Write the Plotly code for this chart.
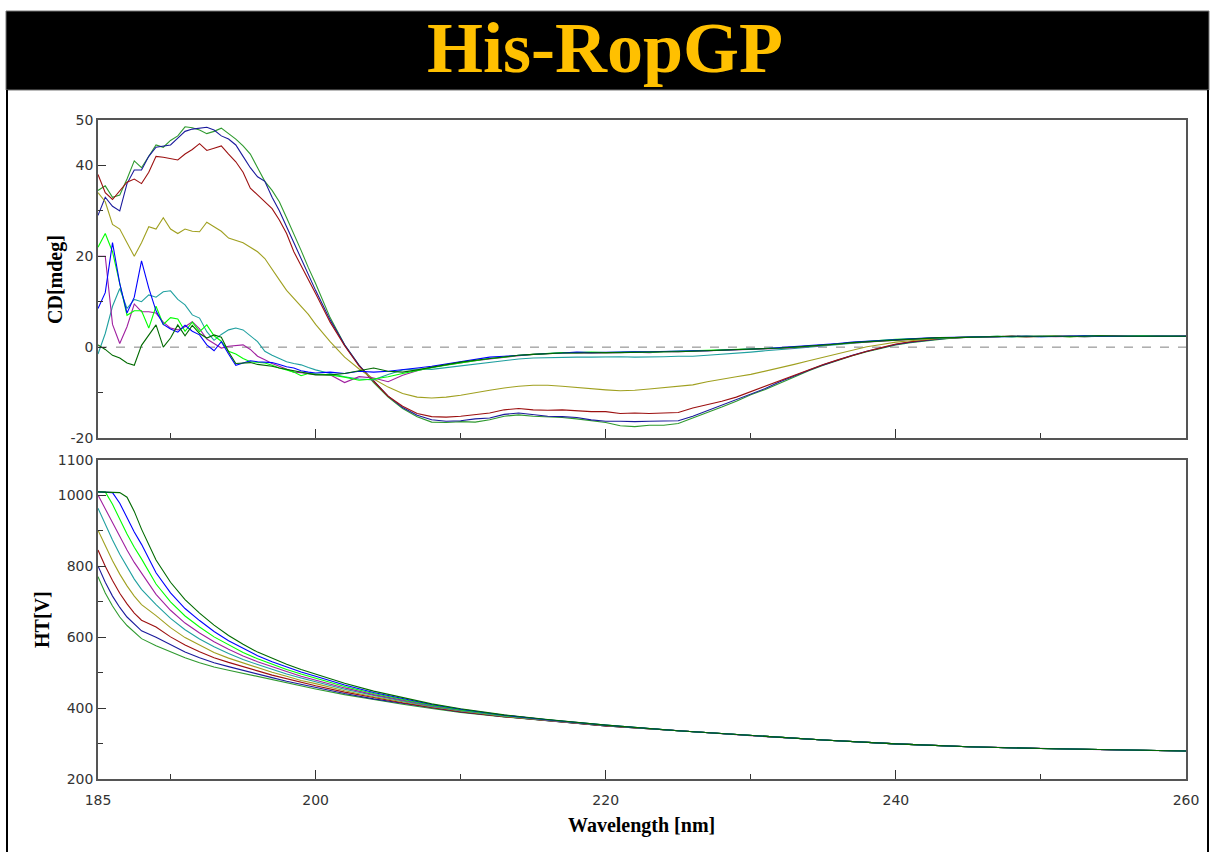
import plotly.graph_objects as go

# ---------------- data ----------------
WL_CD = [185.0, 185.5, 186.0, 186.5, 187.0, 187.5, 188.0, 188.5, 189.0, 189.5,
         190.0, 190.5, 191.0, 191.5, 192.0, 192.5, 193.0, 193.5, 194.0, 194.5,
         195.0, 195.5, 196.0, 196.5, 197.0, 197.5, 198.0, 198.5, 199.0, 199.5,
         200, 201, 202, 203, 204, 205, 206, 207, 208, 209, 210,
         211, 212, 213, 214, 215, 216, 217, 218, 219, 220,
         221, 222, 223, 224, 225, 226, 227, 228, 229, 230,
         231, 232, 233, 234, 235, 236, 237, 238, 239, 240,
         241, 242, 243, 244, 245, 246, 247, 248, 249, 250,
         251, 252, 253, 254, 255, 256, 257, 258, 259, 260]

cd_green = [34.5, 35.5, 33.0, 33.5, 37.0, 41.0, 39.5, 42.0, 44.5, 44.0,
            45.5, 46.5, 48.5, 48.3, 47.8, 47.0, 47.5, 48.2, 47.0, 45.8,
            44.3, 42.5, 39.5, 36.5, 34.5, 32.0, 28.5, 25.0, 21.3, 17.5,
            14.0, 6.5, 0.5, -4.0, -7.8, -11.0, -13.5, -15.3, -16.5, -16.6, -16.4,
            -16.5, -16.0, -15.2, -14.9, -15.2, -15.3, -15.5, -15.8, -16.2, -16.6,
            -17.3, -17.5, -17.2, -17.2, -16.8, -15.6, -14.5, -13.2, -11.9, -10.5,
            -9.3, -7.9, -6.5, -5.2, -4.0, -2.9, -1.9, -1.0, -0.2, 0.5,
            1.0, 1.4, 1.7, 2.0, 2.2, 2.3, 2.3, 2.4, 2.3, 2.4,
            2.4, 2.3, 2.4, 2.5, 2.4, 2.4, 2.5, 2.4, 2.5, 2.5]

cd_navy = [29.0, 33.0, 31.0, 30.0, 36.0, 39.0, 39.0, 42.0, 44.0, 44.2,
           44.5, 46.0, 47.5, 48.0, 48.2, 48.4, 47.8, 46.5, 45.8, 44.5,
           42.0, 39.5, 37.5, 36.5, 33.0, 30.0, 26.5, 23.0, 19.5, 15.8,
           12.5, 6.0, 0.5, -4.0, -7.5, -10.8, -13.3, -15.0, -16.0, -16.3, -16.2,
           -15.8, -15.6, -14.8, -14.5, -14.8, -15.2, -15.3, -15.5, -16.0, -16.3,
           -16.3, -16.4, -16.3, -16.3, -16.2, -15.2, -14.0, -12.8, -11.6, -10.3,
           -9.1, -7.6, -6.3, -5.1, -3.9, -2.8, -1.8, -0.9, -0.1, 0.6,
           1.1, 1.5, 1.8, 2.0, 2.2, 2.3, 2.4, 2.3, 2.4, 2.4,
           2.3, 2.4, 2.4, 2.5, 2.4, 2.4, 2.4, 2.5, 2.4, 2.5]

cd_red = [38.0, 34.0, 32.5, 34.5, 36.3, 37.0, 36.0, 38.5, 42.0, 41.8,
          41.5, 41.2, 42.5, 43.5, 44.8, 43.3, 43.8, 44.3, 42.5, 40.8,
          38.5, 35.0, 33.5, 32.0, 30.5, 28.0, 25.0, 21.0, 18.0, 14.8,
          11.8, 5.5, 0.3, -4.2, -7.6, -10.8, -13.0, -14.6, -15.3, -15.4, -15.2,
          -14.8, -14.5, -13.8, -13.5, -13.8, -13.9, -13.8, -14.0, -14.2, -14.2,
          -14.6, -14.5, -14.6, -14.5, -14.4, -13.4, -12.7, -11.9, -11.0, -9.8,
          -8.7, -7.4, -6.2, -5.0, -3.8, -2.8, -1.8, -0.9, -0.1, 0.7,
          1.2, 1.6, 1.9, 2.1, 2.2, 2.3, 2.3, 2.4, 2.3, 2.4,
          2.4, 2.4, 2.3, 2.4, 2.5, 2.4, 2.4, 2.4, 2.5, 2.4]

cd_olive = [34.0, 32.0, 27.0, 26.0, 23.0, 20.0, 23.0, 26.5, 26.0, 28.5,
            26.0, 25.0, 26.0, 25.5, 25.4, 27.5, 26.5, 25.5, 24.0, 23.5,
            23.0, 22.0, 21.0, 19.5, 17.0, 14.8, 12.5, 10.7, 9.0, 7.2,
            5.0, 1.2, -2.2, -4.8, -7.0, -8.8, -10.2, -11.0, -11.2, -11.0, -10.6,
            -10.0, -9.5, -9.0, -8.6, -8.4, -8.4, -8.6, -8.9, -9.2, -9.4,
            -9.6, -9.5, -9.2, -8.9, -8.6, -8.3, -7.6, -7.0, -6.5, -6.0,
            -5.3, -4.6, -3.8, -3.0, -2.2, -1.4, -0.6, 0.1, 0.6, 1.1,
            1.4, 1.7, 1.9, 2.1, 2.2, 2.3, 2.3, 2.4, 2.3, 2.4,
            2.4, 2.3, 2.4, 2.4, 2.4, 2.5, 2.4, 2.4, 2.5, 2.4]

cd_teal = [-1.5, 3.0, 9.0, 12.9, 8.5, 10.5, 10.0, 11.5, 11.0, 12.2,
           12.4, 10.5, 9.3, 7.1, 6.4, 3.4, 1.5, 2.8, 3.8, 4.2,
           3.8, 2.5, 1.2, -0.9, -1.8, -2.5, -3.2, -3.6, -3.9, -4.5,
           -5.0, -5.8, -6.5, -7.0, -7.2, -6.0, -5.0, -4.8, -4.9, -4.5, -4.1,
           -3.8, -3.3, -2.9, -2.6, -2.4, -2.3, -2.3, -2.2, -2.2, -2.1,
           -2.1, -2.2, -2.2, -2.1, -2.0, -2.0, -1.8, -1.6, -1.3, -1.1,
           -0.8, -0.6, -0.3, 0.0, 0.3, 0.6, 0.9, 1.2, 1.4, 1.6,
           1.8, 1.9, 2.0, 2.1, 2.2, 2.3, 2.3, 2.3, 2.4, 2.3,
           2.4, 2.4, 2.3, 2.4, 2.4, 2.5, 2.4, 2.4, 2.4, 2.5]

cd_purple = [20.0, 20.0, 5.0, 0.8, 4.5, 9.5, 7.8, 7.8, 7.5, 5.5,
             4.2, 3.8, 4.5, 5.6, 4.0, 1.8, 0.8, -0.2, 0.2, 0.3,
             0.5, -0.5, -2.0, -2.8, -3.6, -4.2, -4.8, -5.5, -5.6, -5.8,
             -6.0, -6.1, -7.8, -6.5, -6.8, -7.6, -6.2, -5.2, -4.4, -3.9, -3.4,
             -3.0, -2.6, -2.2, -1.9, -1.6, -1.4, -1.3, -1.3, -1.2, -1.3,
             -1.2, -1.1, -1.2, -1.0, -1.0, -0.9, -0.9, -0.8, -0.7, -0.6,
             -0.4, -0.3, -0.1, 0.1, 0.4, 0.7, 0.9, 1.2, 1.4, 1.6,
             1.8, 1.9, 2.0, 2.1, 2.2, 2.3, 2.3, 2.4, 2.3, 2.4,
             2.3, 2.4, 2.4, 2.4, 2.5, 2.4, 2.4, 2.3, 2.4, 2.5]

cd_lime = [22.0, 25.0, 21.0, 14.0, 7.0, 8.0, 8.0, 4.2, 9.0, 5.0,
           6.5, 6.2, 3.5, 5.5, 3.4, 4.9, 2.5, 1.3, -0.9, -1.5,
           -2.5, -3.2, -3.3, -3.5, -4.0, -4.6, -5.0, -5.5, -6.3, -5.8,
           -5.9, -6.1, -6.6, -7.3, -7.0, -6.5, -5.8, -5.1, -4.5, -4.0, -3.5,
           -3.0, -2.5, -2.2, -1.8, -1.6, -1.4, -1.2, -1.2, -1.1, -1.2,
           -1.1, -1.0, -1.1, -1.0, -0.9, -0.9, -0.8, -0.7, -0.6, -0.5,
           -0.3, -0.2, 0.0, 0.2, 0.5, 0.7, 1.0, 1.3, 1.5, 1.7,
           1.8, 1.9, 2.0, 2.2, 2.2, 2.3, 2.4, 2.3, 2.4, 2.4,
           2.4, 2.3, 2.5, 2.4, 2.4, 2.4, 2.5, 2.4, 2.4, 2.4]

cd_blue = [8.5, 12.0, 23.0, 14.0, 7.5, 11.0, 19.0, 13.0, 8.0, 5.0,
           4.0, 3.3, 4.8, 3.5, 2.7, 0.5, -0.8, 1.2, -1.5, -4.0,
           -3.5, -3.0, -3.2, -3.3, -3.4, -3.8, -4.3, -4.6, -5.2, -5.5,
           -5.7, -5.5, -5.8, -5.3, -5.5, -5.3, -5.0, -4.6, -4.2, -3.7, -3.3,
           -2.8, -2.2, -2.0, -1.8, -1.5, -1.4, -1.3, -1.1, -1.2, -1.1,
           -1.1, -1.0, -1.0, -0.9, -0.9, -0.8, -0.8, -0.7, -0.6, -0.4,
           -0.3, -0.1, 0.1, 0.3, 0.5, 0.8, 1.1, 1.3, 1.5, 1.7,
           1.9, 2.0, 2.1, 2.2, 2.3, 2.3, 2.3, 2.4, 2.4, 2.3,
           2.4, 2.4, 2.5, 2.4, 2.4, 2.4, 2.4, 2.5, 2.4, 2.4]

cd_dkgreen = [0.5, -0.5, -1.8, -2.4, -3.5, -4.0, 0.4, 2.7, 4.9, 0.0,
              2.0, 4.9, 2.5, 4.8, 3.0, 2.0, 2.7, 2.2, -1.0, -3.6,
              -3.5, -3.4, -3.8, -4.0, -4.2, -4.6, -4.9, -5.3, -5.5, -5.9,
              -6.1, -6.1, -5.8, -5.2, -4.6, -5.3, -5.5, -5.0, -4.4, -3.8, -3.3,
              -2.9, -2.5, -2.1, -1.8, -1.6, -1.4, -1.3, -1.3, -1.2, -1.2,
              -1.2, -1.1, -1.1, -1.0, -1.0, -0.9, -0.8, -0.7, -0.6, -0.5,
              -0.3, -0.2, 0.0, 0.2, 0.4, 0.7, 1.0, 1.2, 1.4, 1.6,
              1.8, 1.9, 2.1, 2.1, 2.2, 2.3, 2.3, 2.4, 2.4, 2.4,
              2.3, 2.4, 2.4, 2.5, 2.4, 2.4, 2.4, 2.4, 2.5, 2.4]

WL_HT = [185.0, 185.5, 186.0, 186.5, 187.0, 187.5, 188.0, 189, 190, 191,
         192, 193, 194, 195, 196, 197, 198, 199, 200, 202,
         204, 206, 208, 210, 213, 216, 220, 225, 230, 235,
         240, 245, 250, 255, 260]

ht_green = [771, 725, 688, 657, 633, 613, 596, 576, 558, 542, 528, 516, 507, 498, 490, 480, 471, 462, 454, 438,
            424, 411, 399, 388, 375, 364, 350, 336, 322, 310, 299, 291, 286, 282, 279]
ht_navy = [801, 755, 716, 684, 657, 636, 618, 600, 578, 558, 542, 528, 517, 506, 497, 486, 476, 467, 458, 441,
           426, 413, 400, 389, 376, 364, 350, 336, 322, 310, 299, 291, 286, 282, 279]
ht_red = [846, 800, 760, 724, 694, 668, 648, 629, 601, 578, 559, 542, 529, 516, 505, 493, 483, 472, 463, 445,
          429, 415, 402, 390, 376, 365, 350, 336, 322, 310, 299, 291, 286, 282, 279]
ht_olive = [902, 858, 816, 778, 745, 716, 692, 661, 627, 599, 577, 557, 541, 527, 514, 501, 490, 478, 469, 449,
            432, 417, 404, 392, 377, 365, 351, 336, 322, 310, 299, 291, 286, 282, 279]
ht_teal = [964, 918, 874, 834, 797, 764, 735, 692, 653, 621, 595, 573, 554, 537, 523, 509, 496, 485, 474, 453,
           436, 420, 405, 393, 378, 366, 351, 336, 322, 310, 299, 291, 286, 282, 279]
ht_purple = [1001, 962, 924, 884, 846, 811, 780, 721, 676, 640, 612, 587, 566, 547, 531, 516, 503, 490, 479, 457,
             438, 422, 407, 394, 379, 366, 351, 336, 322, 310, 299, 291, 286, 282, 279]
ht_lime = [1010, 1010, 975, 932, 891, 854, 821, 750, 700, 660, 629, 601, 578, 557, 539, 523, 509, 496, 484, 461,
           441, 424, 408, 395, 379, 367, 352, 336, 322, 310, 299, 291, 286, 282, 279]
ht_blue = [1010, 1010, 1008, 978, 937, 897, 862, 782, 725, 681, 647, 616, 590, 568, 548, 531, 516, 502, 490, 465,
           444, 426, 410, 397, 380, 367, 352, 336, 322, 310, 299, 291, 286, 282, 279]
ht_dkgreen = [1010, 1010, 1010, 1008, 995, 955, 905, 818, 755, 706, 668, 634, 605, 580, 558, 540, 524, 509, 496, 470,
              448, 429, 412, 398, 381, 368, 352, 336, 322, 310, 299, 291, 286, 282, 279]

COLORS = {
    "green": "#2f9a2f", "navy": "#1a1a9c", "red": "#9c1010", "olive": "#a0a020",
    "teal": "#20a0a0", "purple": "#a020a0", "lime": "#00ff00", "blue": "#0000ff",
    "dkgreen": "#006a00",
}
CD_SERIES = [("green", cd_green), ("navy", cd_navy), ("red", cd_red), ("olive", cd_olive),
             ("teal", cd_teal), ("purple", cd_purple), ("lime", cd_lime), ("blue", cd_blue),
             ("dkgreen", cd_dkgreen)]
HT_SERIES = [("green", ht_green), ("navy", ht_navy), ("red", ht_red), ("olive", ht_olive),
             ("teal", ht_teal), ("purple", ht_purple), ("lime", ht_lime), ("blue", ht_blue),
             ("dkgreen", ht_dkgreen)]

TITLE = "His-RopGP"
X_TICKS = [185, 200, 220, 240, 260]
X_MINOR = [190, 210, 230, 250]
CD_TICKS = [-20, 0, 20, 40, 50]
CD_TICKTEXT = ["-20", "0", "20", "40", "50"]
CD_MINOR = [-10, 10, 30]
HT_TICKS = [200, 400, 600, 800, 1000, 1100]
HT_MINOR = [300, 500, 700, 900]

# ---------------- layout helpers ----------------
W, H = 1212, 852


def fx(p):
    return p / W


def fy(p):
    return 1 - p / H


fig = go.Figure()
for key, vals in CD_SERIES:
    fig.add_trace(go.Scatter(x=WL_CD, y=vals, mode="lines", xaxis="x", yaxis="y",
                             line=dict(color=COLORS[key], width=1.1),
                             showlegend=False, hoverinfo="skip"))
for key, vals in HT_SERIES:
    fig.add_trace(go.Scatter(x=WL_HT, y=vals, mode="lines", xaxis="x2", yaxis="y2",
                             line=dict(color=COLORS[key], width=1.1),
                             showlegend=False, hoverinfo="skip"))

tick_font = dict(family="DejaVu Sans", size=14, color="#333333")
axis_common = dict(showline=True, linecolor="#555555", linewidth=1.5, mirror=True,
                   showgrid=False, zeroline=False, ticks="inside", tickcolor="#333333",
                   tickwidth=1.2, tickfont=tick_font, automargin=False)

xa = dict(axis_common, domain=[fx(98), fx(1186)], range=[185, 260], tickmode="array",
          tickvals=X_TICKS, ticklen=9,
          minor=dict(tickmode="array", tickvals=X_MINOR, ticks="inside", ticklen=5,
                     tickcolor="#333333", tickwidth=1.2))

fig.update_layout(
    width=W, height=H,
    margin=dict(l=0, r=0, t=0, b=0, pad=0, autoexpand=False),
    paper_bgcolor="white", plot_bgcolor="white",
    xaxis=dict(xa, anchor="y", showticklabels=False),
    xaxis2=dict(xa, anchor="y2", showticklabels=True, ticklabelstandoff=7),
    yaxis=dict(axis_common, domain=[fy(438), fy(120)], range=[-20, 50], anchor="x",
               tickmode="array", tickvals=CD_TICKS, ticktext=CD_TICKTEXT, ticklen=8,
               minor=dict(tickmode="array", tickvals=CD_MINOR, ticks="inside", ticklen=5,
                          tickcolor="#333333", tickwidth=1.2)),
    yaxis2=dict(axis_common, domain=[fy(779), fy(460)], range=[200, 1100], anchor="x2",
                tickmode="array", tickvals=HT_TICKS, ticklen=8,
                minor=dict(tickmode="array", tickvals=HT_MINOR, ticks="inside", ticklen=5,
                           tickcolor="#333333", tickwidth=1.2)),
    shapes=[
        dict(type="rect", xref="paper", yref="paper", x0=fx(6), x1=fx(1209),
             y0=fy(90), y1=fy(11), fillcolor="black", line=dict(color="#777777", width=1),
             layer="below"),
        dict(type="line", xref="paper", yref="paper", x0=fx(7), x1=fx(7),
             y0=fy(90), y1=0, line=dict(color="black", width=2)),
        dict(type="line", xref="paper", yref="paper", x0=fx(1208), x1=fx(1208),
             y0=fy(90), y1=0, line=dict(color="black", width=2)),
        dict(type="line", xref="x", yref="y", x0=185, x1=260, y0=0, y1=0,
             line=dict(color="#808080", width=1, dash="dash"), layer="below"),
    ],
    annotations=[
        dict(text="<b>" + TITLE + "</b>", xref="paper", yref="paper", x=fx(605), y=fy(48),
             xanchor="center", yanchor="middle", showarrow=False,
             font=dict(family="Liberation Serif", size=72, color="#FFC000")),
        dict(text="<b>CD[mdeg]</b>", xref="paper", yref="paper", x=fx(55), y=fy(280),
             xanchor="center", yanchor="middle", showarrow=False, textangle=-90,
             font=dict(family="Liberation Serif", size=20, color="black")),
        dict(text="<b>HT[V]</b>", xref="paper", yref="paper", x=fx(42), y=fy(620),
             xanchor="center", yanchor="middle", showarrow=False, textangle=-90,
             font=dict(family="Liberation Serif", size=20, color="black")),
        dict(text="<b>Wavelength [nm]</b>", xref="paper", yref="paper", x=fx(641), y=fy(825),
             xanchor="center", yanchor="middle", showarrow=False,
             font=dict(family="Liberation Serif", size=20, color="black")),
    ],
)

fig.write_html("out.html")
